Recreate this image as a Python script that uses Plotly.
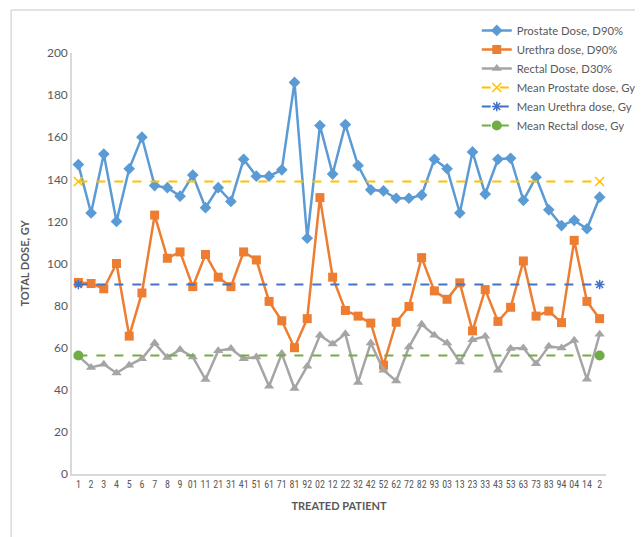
import plotly.graph_objects as go

patients = ["1", "2", "3", "4", "5", "6", "7", "8", "9", "01", "11", "21", "31", "41",
            "51", "61", "71", "81", "92", "02", "12", "22", "32", "42", "52", "62", "72",
            "82", "93", "03", "13", "23", "33", "43", "53", "63", "73", "83", "94", "04",
            "14", "2"]

prostate = [147, 124, 152, 120, 145, 160, 137, 136, 132, 142, 126.5, 136, 129.5, 149.5,
            141.5, 141.5, 144.5, 186, 112, 165.5, 142.5, 166, 146.5, 135, 134.5, 131,
            131, 132.5, 149.5, 145, 124, 153, 133, 149.5, 150, 130, 141, 125.5, 118,
            120.5, 116.5, 131.5]

urethra = [91, 90.5, 88, 100, 65.5, 86, 123, 102.5, 105.5, 89, 104.3, 93.5, 89, 105.5,
           101.7, 82, 72.8, 60, 73.8, 131.3, 93.5, 77.7, 75, 71.7, 51.7, 72.1, 79.6,
           102.8, 87, 83, 90.8, 68, 87.6, 72.5, 79.2, 101.2, 75, 77.4, 71.9, 111,
           82, 73.8]

rectal = [56, 50.6, 52.1, 48, 51.7, 54.8, 62.2, 55.3, 59.1, 55.6, 44.9, 58.5, 59.6, 54.8,
          55.6, 41.7, 57.2, 40.6, 51.2, 65.9, 61.8, 66.6, 43.5, 62.2, 49.3, 44.2, 60.3,
          71.1, 65.9, 62.2, 53.2, 63.8, 65.4, 49.3, 59.6, 59.9, 52.4, 60.7, 59.9, 63.5,
          45, 66.4]

mean_prostate = 139
mean_urethra = 90
mean_rectal = 56.3

x_idx = list(range(len(patients)))
ends = [x_idx[0], x_idx[-1]]

fig = go.Figure()
fig.add_trace(go.Scatter(x=x_idx, y=prostate, mode="lines+markers", name="Prostate Dose, D90%",
                         line=dict(color="#5B9BD5", width=2.5),
                         marker=dict(symbol="diamond", size=9, color="#5B9BD5")))
fig.add_trace(go.Scatter(x=x_idx, y=urethra, mode="lines+markers", name="Urethra dose, D90%",
                         line=dict(color="#ED7D31", width=2.5),
                         marker=dict(symbol="square", size=9, color="#ED7D31")))
fig.add_trace(go.Scatter(x=x_idx, y=rectal, mode="lines+markers", name="Rectal Dose, D30%",
                         line=dict(color="#A5A5A5", width=2.5),
                         marker=dict(symbol="triangle-up", size=9, color="#A5A5A5")))
fig.add_trace(go.Scatter(x=ends, y=[mean_prostate] * 2, mode="lines+markers",
                         name="Mean Prostate dose, Gy",
                         line=dict(color="#FFC000", width=2, dash="dash"),
                         marker=dict(symbol="x-thin-open", size=9, color="#FFC000",
                                     line=dict(color="#FFC000", width=1.5))))
fig.add_trace(go.Scatter(x=ends, y=[mean_urethra] * 2, mode="lines+markers",
                         name="Mean Urethra dose, Gy",
                         line=dict(color="#4472C4", width=2, dash="dash"),
                         marker=dict(symbol="asterisk-open", size=8, color="#4472C4",
                                     line=dict(color="#4472C4", width=1.5))))
fig.add_trace(go.Scatter(x=ends, y=[mean_rectal] * 2, mode="lines+markers",
                         name="Mean Rectal dose, Gy",
                         line=dict(color="#70AD47", width=2, dash="dash"),
                         marker=dict(symbol="circle", size=10, color="#70AD47")))

# outer chart frame (top and left edges visible)
fig.add_shape(type="line", xref="paper", yref="paper", x0=-0.114, x1=1.07, y0=1.102, y1=1.102,
              line=dict(color="#D9D9D9", width=1.5))
fig.add_shape(type="line", xref="paper", yref="paper", x0=-0.114, x1=-0.114, y0=1.102, y1=-0.16,
              line=dict(color="#D9D9D9", width=1.5))

fig.update_layout(
    width=635, height=529,
    margin=dict(l=64, r=37, t=45, b=63, autoexpand=False),
    paper_bgcolor="white", plot_bgcolor="white",
    font=dict(family="Lato, Open Sans, sans-serif", color="#595959", size=12),
    showlegend=True,
    legend=dict(x=0.758, y=1.088, xanchor="left", yanchor="top",
                font=dict(size=11.3, color="#595959"), bgcolor="rgba(255,255,255,0)",
                tracegroupgap=0, itemwidth=30),
    xaxis=dict(tickmode="array", tickvals=x_idx, ticktext=patients,
               range=[-0.5, len(patients) - 0.5], automargin=False,
               showline=True, linecolor="#D9D9D9", linewidth=1.5,
               showgrid=False, zeroline=False, ticks="",
               tickfont=dict(size=10, family="Liberation Sans Narrow, Roboto Condensed, Lato",
                             color="#595959"), tickangle=0,
               title=dict(text="<b>TREATED PATIENT</b>", font=dict(size=11, color="#595959"),
                          standoff=14)),
    yaxis=dict(range=[0, 200], dtick=20, showline=True, linecolor="#D9D9D9", linewidth=1.5,
               showgrid=False, zeroline=False, ticks="", automargin=False,
               tickfont=dict(size=12, color="#595959"),
               title=dict(text="<b>TOTAL DOSE, GY</b>", font=dict(size=11, color="#595959"),
                          standoff=15)),
)

fig.write_html("out.html")
